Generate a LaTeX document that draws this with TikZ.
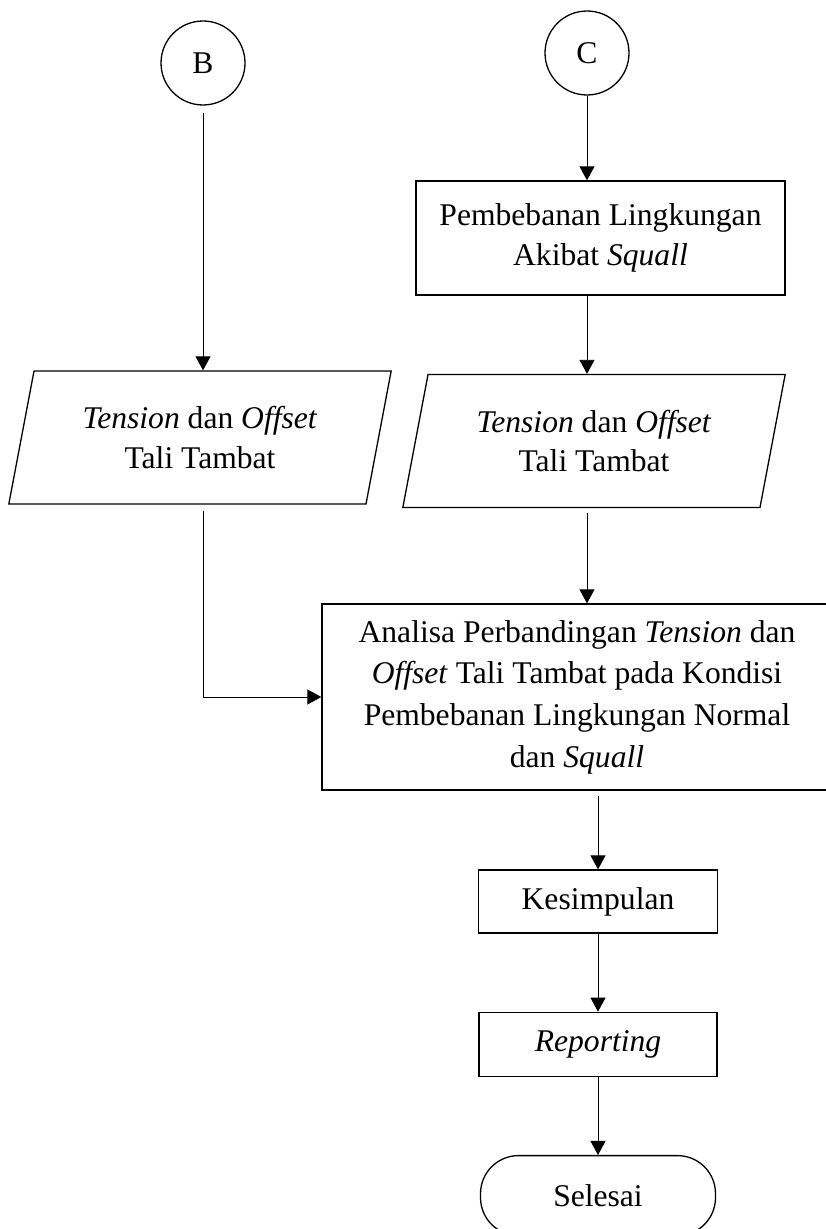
\documentclass[tikz,border=0pt]{standalone}
\usepackage{fontspec}
\setmainfont{Liberation Serif}
\usepackage{tikz}
\usetikzlibrary{shapes,arrows,arrows.meta,calc}
\usetikzlibrary{positioning}
\tikzstyle{box_style0}=[draw, line width=0.65pt, anchor=center, align=center,
font=\fontsize{15.8}{19.8}\selectfont]
\tikzstyle{proses}=[box_style0, rectangle]
\tikzstyle{konektor}=[box_style0, circle, minimum size=42pt, inner sep=0pt]
\tikzstyle{dataio}=[box_style0, trapezium, trapezium left angle=76, trapezium right angle=104,
trapezium stretches=true, minimum width=191.5pt, minimum height=66.5pt]
\tikzstyle{terminal}=[box_style0, rounded corners=19pt, minimum width=117.5pt, minimum height=40pt]
\tikzstyle{myarrow}=[-{Triangle[width=7.5pt,length=7pt]}, line width=0.45pt]

\begin{document}
\begin{tikzpicture}[x=0.5pt,y=-0.5pt]
		\useasboundingbox (0,0) rectangle (825,1229);

		% konektor dari halaman sebelumnya
		\node[konektor] (B) at (203,63) {B};
		\node[konektor] (C) at (587,53) {C};

		\node[proses, minimum width=184.5pt, minimum height=57pt] (D) at (600.5,238) {Pembebanan Lingkungan\\Akibat \textit{Squall}};
		\draw[myarrow] (C) -- (C |- D.north);

		\node[dataio] (E) at (200,437.5) {\textit{Tension} dan \textit{Offset}\\Tali Tambat};
		\draw[myarrow, shorten <=3.5pt] (B) -- (B |- E.north);

		\node[dataio] (F) at (594,441) {\textit{Tension} dan \textit{Offset}\\Tali Tambat};
		\draw[myarrow] (C |- D.south) -- (C |- F.north);

		\node[proses, minimum width=255pt, minimum height=93pt, font=\fontsize{15.8}{20.8}\selectfont] (G) at (577,697)
		{Analisa Perbandingan \textit{Tension} dan\\\textit{Offset} Tali Tambat pada Kondisi\\Pembebanan Lingkungan Normal\\dan \textit{Squall}};
		\draw[myarrow, shorten <=2.5pt] (C |- F.south) -- (C |- G.north);
		\draw[myarrow, shorten <=3pt] (B |- E.south) |- (G.west); % normal

		\node[proses, minimum width=119.5pt, minimum height=31.5pt] (H) at (598,901.5) {Kesimpulan};
		\draw[myarrow, shorten <=2.5pt] (G.south -| H) -- (H);

		\node[proses, minimum width=119pt, minimum height=32pt, below=39pt of H] (I) {\textit{Reporting}};
		\draw[myarrow] (H) -- (I);

		\node[terminal, below=39pt of I] (J) {Selesai};
		\draw[myarrow] (I) -- (J);
\end{tikzpicture}
\end{document}
